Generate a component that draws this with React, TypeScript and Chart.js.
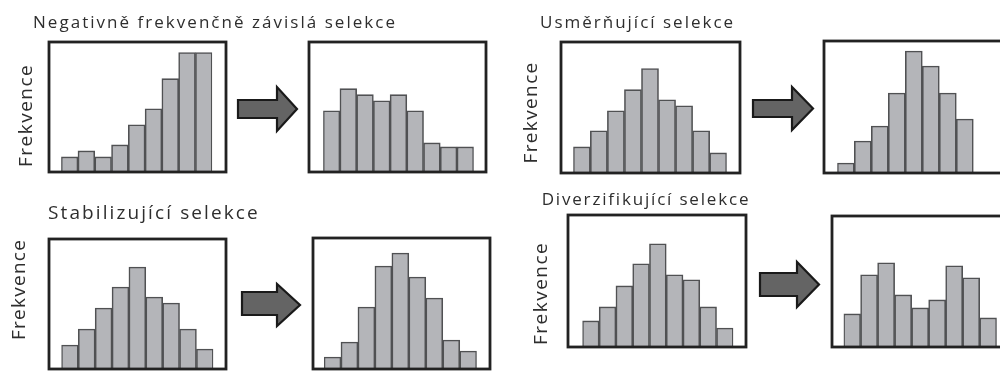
import React, { useEffect, useLayoutEffect, useRef } from "react";
import { Chart, registerables } from "chart.js";

Chart.register(...registerables);

// ---- data (bar heights, arbitrary frequency units) ----
const bins = ["1", "2", "3", "4", "5", "6", "7", "8", "9"];
const negativeBefore = [15, 21, 15, 27, 47, 63, 93, 119, 119];
const negativeAfter = [61, 83, 77, 71, 77, 61, 29, 25, 25];
const directionalBefore = [26, 42, 62, 83, 104, 73, 67, 42, 20];
const directionalAfter = [10, 32, 47, 80, 122, 107, 80, 54, null];
const stabilizingBefore = [24, 40, 61, 82, 102, 72, 66, 40, 20];
const stabilizingAfter = [12, 27, 62, 103, 116, 92, 71, 29, 18];
const diversifyingBefore = [26, 40, 61, 83, 103, 72, 67, 40, 19];
const diversifyingAfter = [33, 72, 84, 52, 39, 47, 81, 69, 29];

const titleNegative = "Negativně frekvenčně závislá selekce";
const titleDirectional = "Usměrňující selekce";
const titleStabilizing = "Stabilizující selekce";
const titleDiversifying = "Diverzifikující selekce";
const yLabel = "Frekvence";

// ---- layout ----
type PanelLayout = {
  values: (number | null)[];
  left: number;
  right: number;
  top: number;
  bottom: number;
  insetL: number;
  insetR: number;
};

const panels: PanelLayout[] = [
  { values: negativeBefore, left: 48.5, right: 225.5, top: 42, bottom: 171.5, insetL: 12.2, insetR: 13.8 },
  { values: negativeAfter, left: 308.5, right: 485, top: 42, bottom: 171.5, insetL: 14.2, insetR: 12.3 },
  { values: directionalBefore, left: 561, right: 740, top: 41.5, bottom: 172, insetL: 12.3, insetR: 13.3 },
  { values: directionalAfter, left: 824, right: 1002, top: 41, bottom: 173, insetL: 13.3, insetR: 11.7 },
  { values: stabilizingBefore, left: 49.3, right: 226.7, top: 239, bottom: 369, insetL: 12.4, insetR: 12.7 },
  { values: stabilizingAfter, left: 313.3, right: 490, top: 238.3, bottom: 369.3, insetL: 11, insetR: 13.3 },
  { values: diversifyingBefore, left: 568.3, right: 746.7, top: 215, bottom: 346.7, insetL: 14.4, insetR: 12.7 },
  { values: diversifyingAfter, left: 831.7, right: 1010, top: 216, bottom: 346.7, insetL: 11.6, insetR: 13.3 },
];

const arrows = [
  { x0: 238, xn: 277, xt: 297, sy0: 100, sy1: 118, hy0: 87, hy1: 131 },
  { x0: 753, xn: 792, xt: 813, sy0: 100, sy1: 117, hy0: 87, hy1: 130 },
  { x0: 242, xn: 277, xt: 300, sy0: 292, sy1: 315, hy0: 284, hy1: 326 },
  { x0: 760, xn: 797, xt: 819, sy0: 273, sy1: 296, hy0: 262, hy1: 307 },
];

const titles = [
  { text: titleNegative, left: 33, capTop: 15.5, width: 362, size: 17 },
  { text: titleDirectional, left: 540, capTop: 15.5, width: 193, size: 17 },
  { text: titleStabilizing, left: 48, capTop: 206, width: 210, size: 19 },
  { text: titleDiversifying, left: 541.7, capTop: 192.5, width: 207, size: 17 },
];

const vLabels = [
  { cx: 24.5, cy: 116, length: 102, size: 19 },
  { cx: 529.5, cy: 112.5, length: 101, size: 19 },
  { cx: 17.5, cy: 290, length: 100, size: 19 },
  { cx: 539.5, cy: 294, length: 102, size: 19 },
];

const PAD = 4;
const FONT = "'Open Sans', 'Noto Sans', sans-serif";
const TEXT_COLOR = "#2e2e2e";

const framePlugin = {
  id: "panelFrame",
  afterDatasetsDraw(chart: any, _args: any, opts: any) {
    const { ctx, chartArea } = chart;
    ctx.save();
    ctx.strokeStyle = "#222222";
    ctx.lineWidth = 2.8;
    ctx.strokeRect(
      chartArea.left - opts.insetL,
      chartArea.top,
      chartArea.width + opts.insetL + opts.insetR,
      chartArea.bottom - chartArea.top
    );
    ctx.restore();
  },
};

function Panel({ p }: { p: PanelLayout }) {
  const ref = useRef<HTMLCanvasElement>(null);
  const w = p.right - p.left + PAD * 2;
  const h = p.bottom - p.top + PAD * 2;
  useEffect(() => {
    if (!ref.current) return;
    const chart = new Chart(ref.current, {
      type: "bar",
      data: {
        labels: bins,
        datasets: [
          {
            data: p.values as any,
            backgroundColor: "#b4b5b9",
            borderColor: "#505153",
            borderWidth: 1.6,
            barPercentage: 1,
            categoryPercentage: 1,
          },
        ],
      },
      options: {
        animation: false,
        responsive: false,
        maintainAspectRatio: false,
        devicePixelRatio: 1,
        layout: {
          padding: { left: PAD + p.insetL, right: PAD + p.insetR, top: PAD, bottom: PAD },
        },
        scales: {
          x: { type: "category", display: false, offset: true },
          y: { display: false, min: 0, max: p.bottom - p.top },
        },
        plugins: {
          legend: { display: false },
          tooltip: { enabled: false },
          panelFrame: { insetL: p.insetL, insetR: p.insetR },
        } as any,
      },
      plugins: [framePlugin],
    });
    return () => chart.destroy();
  }, []);
  return (
    <canvas
      ref={ref}
      width={Math.round(w)}
      height={Math.round(h)}
      style={{
        position: "absolute",
        left: p.left - PAD,
        top: p.top - PAD,
        width: Math.round(w),
        height: Math.round(h),
      }}
    />
  );
}

function Title({ text, left, capTop, width, size }: any) {
  const ref = useRef<HTMLDivElement>(null);
  useLayoutEffect(() => {
    const el = ref.current;
    if (!el) return;
    el.style.letterSpacing = "0px";
    const w0 = el.offsetWidth;
    const n = Array.from(text).length;
    const ls = (width - w0) / Math.max(1, n - 1);
    el.style.letterSpacing = ls + "px";
  }, []);
  return (
    <div
      ref={ref}
      style={{
        position: "absolute",
        left,
        top: capTop - 0.174 * size,
        fontFamily: FONT,
        fontSize: size,
        fontWeight: 500,
        lineHeight: 1,
        color: TEXT_COLOR,
        whiteSpace: "nowrap",
      }}
    >
      {text}
    </div>
  );
}

function VLabel({ cx, cy, length, size }: any) {
  const ref = useRef<HTMLDivElement>(null);
  useLayoutEffect(() => {
    const el = ref.current;
    if (!el) return;
    el.style.letterSpacing = "0px";
    const w0 = el.offsetWidth;
    const n = Array.from(yLabel).length;
    const ls = (length - w0) / Math.max(1, n - 1);
    el.style.letterSpacing = ls + "px";
  }, []);
  return (
    <div
      style={{
        position: "absolute",
        left: cx,
        top: cy,
        width: 0,
        height: 0,
      }}
    >
      <div
        ref={ref}
        style={{
          position: "absolute",
          left: 0,
          top: 0,
          transform: "translate(-50%, -53%) rotate(-90deg)",
          fontFamily: FONT,
          fontSize: size,
          fontWeight: 500,
          lineHeight: 1,
          color: TEXT_COLOR,
          whiteSpace: "nowrap",
        }}
      >
        {yLabel}
      </div>
    </div>
  );
}

function Arrows() {
  return (
    <svg
      width={1000}
      height={372}
      style={{ position: "absolute", left: 0, top: 0, pointerEvents: "none" }}
    >
      {arrows.map((a, i) => {
        const cy = (a.hy0 + a.hy1) / 2;
        const d = `M${a.x0},${a.sy0} L${a.xn},${a.sy0} L${a.xn},${a.hy0} L${a.xt},${cy} L${a.xn},${a.hy1} L${a.xn},${a.sy1} L${a.x0},${a.sy1} Z`;
        return (
          <path
            key={i}
            d={d}
            fill="#646464"
            stroke="#1a1a1a"
            strokeWidth={2.2}
            strokeLinejoin="miter"
          />
        );
      })}
    </svg>
  );
}

export default function App() {
  useEffect(() => {
    document.body.style.margin = "0";
    document.body.style.overflow = "hidden";
  }, []);
  return (
    <div
      style={{
        position: "relative",
        width: 1000,
        height: 372,
        overflow: "hidden",
        background: "#ffffff",
      }}
    >
      {panels.map((p, i) => (
        <Panel key={i} p={p} />
      ))}
      <Arrows />
      {titles.map((t, i) => (
        <Title key={i} {...t} />
      ))}
      {vLabels.map((v, i) => (
        <VLabel key={i} {...v} />
      ))}
    </div>
  );
}
